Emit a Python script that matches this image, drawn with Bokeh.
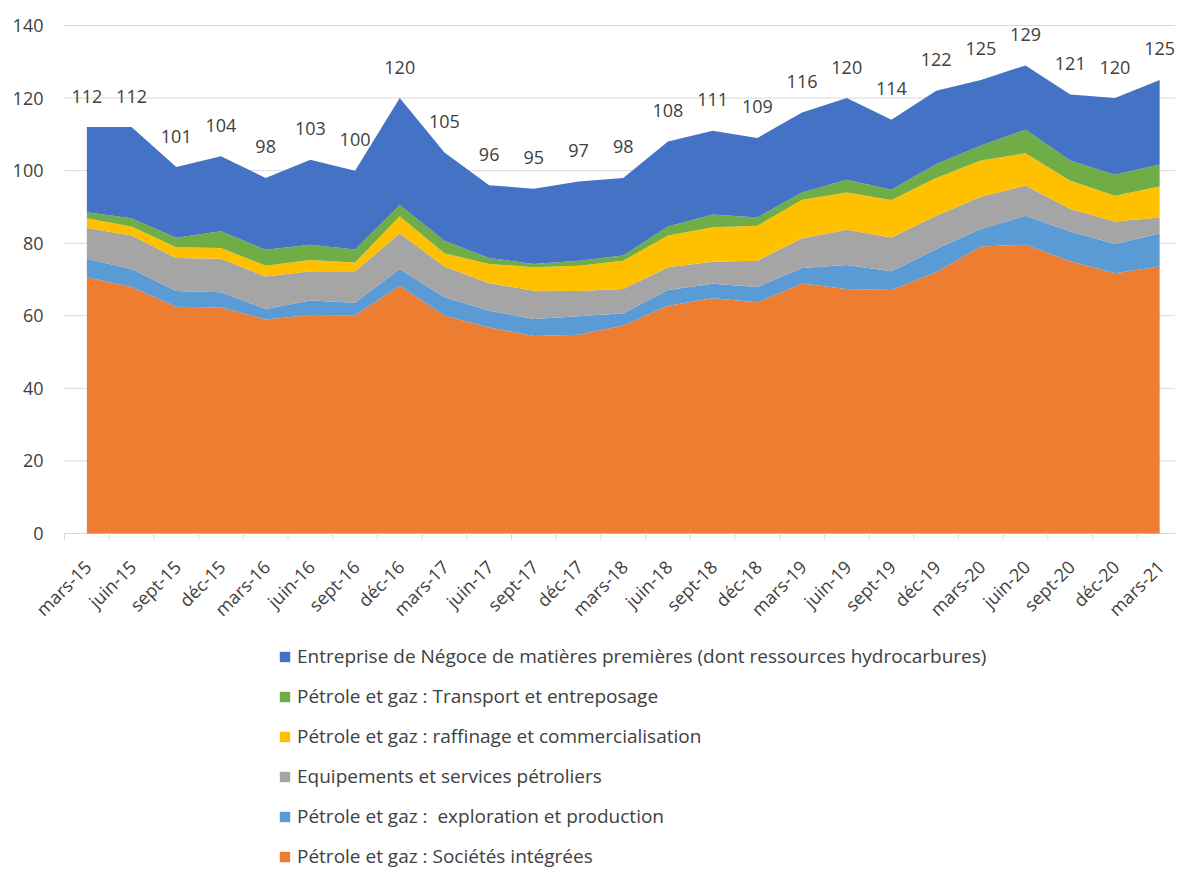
import math
from bokeh.plotting import figure
from bokeh.models import ColumnDataSource, Legend, LegendItem, Range1d
from bokeh.embed import file_html
from bokeh.resources import INLINE
from bokeh.core.properties import value

categories = ["mars-15", "juin-15", "sept-15", "déc-15", "mars-16", "juin-16",
              "sept-16", "déc-16", "mars-17", "juin-17", "sept-17", "déc-17",
              "mars-18", "juin-18", "sept-18", "déc-18", "mars-19", "juin-19",
              "sept-19", "déc-19", "mars-20", "juin-20", "sept-20", "déc-20",
              "mars-21"]

integrees = [70.6, 67.9, 62.5, 62.3, 59.0, 60.2, 60.1, 68.3, 60.1, 56.8, 54.4, 54.8,
             57.3, 62.8, 64.8, 63.7, 68.9, 67.4, 67.1, 72.0, 79.1, 79.6, 75.0, 71.7, 73.6]
exploration = [5.1, 5.0, 4.3, 4.2, 2.9, 4.0, 3.5, 4.6, 5.0, 4.6, 4.7, 5.1,
               3.4, 4.3, 4.0, 4.2, 4.3, 6.6, 5.2, 6.4, 4.8, 8.0, 8.2, 8.1, 9.1]
equipements = [8.5, 9.2, 9.1, 9.2, 8.9, 8.1, 8.7, 9.8, 8.5, 7.6, 7.8, 6.9,
               6.7, 6.3, 6.1, 7.3, 8.2, 9.7, 9.3, 9.2, 8.9, 8.3, 6.2, 6.2, 4.4]
raffinage = [2.7, 2.5, 3.0, 3.0, 3.0, 3.1, 2.4, 4.7, 3.6, 5.3, 6.5, 7.0,
             7.8, 8.7, 9.5, 9.6, 10.6, 10.3, 10.3, 10.4, 10.0, 8.9, 7.8, 7.1, 8.5]
transport = [1.6, 2.3, 2.6, 4.6, 4.4, 4.2, 3.6, 3.1, 3.5, 1.6, 0.9, 1.4,
             1.4, 2.5, 3.5, 2.3, 2.0, 3.5, 2.8, 3.8, 4.1, 6.5, 5.6, 5.8, 6.1]
negoce = [23.5, 25.1, 19.5, 20.7, 19.8, 23.4, 21.7, 29.5, 24.3, 20.1, 20.7, 21.8,
          21.4, 23.4, 23.1, 21.9, 22.0, 22.5, 19.3, 20.2, 18.1, 17.7, 18.2, 21.1, 23.3]

series_names = ["Pétrole et gaz : Sociétés intégrées",
                "Pétrole et gaz :  exploration et production",
                "Equipements et services pétroliers",
                "Pétrole et gaz : raffinage et commercialisation",
                "Pétrole et gaz : Transport et entreposage",
                "Entreprise de Négoce de matières premières (dont ressources hydrocarbures)"]
series_colors = ["#ED7D31", "#5B9BD5", "#A5A5A5", "#FFC000", "#70AD47", "#4472C4"]
keys = ["s0", "s1", "s2", "s3", "s4", "s5"]
series_values = [integrees, exploration, equipements, raffinage, transport, negoce]
y_ticks = [0, 20, 40, 60, 80, 100, 120, 140]
y_tick_labels = [str(t) for t in y_ticks]

xs = list(range(len(categories)))
data = {"x": xs, "base": [0] * len(xs), "cat": categories}
for k, v in zip(keys, series_values):
    data[k] = v
totals = [sum(vals) for vals in zip(*series_values)]
data["total"] = totals
data["label"] = [str(int(round(t))) for t in totals]
source = ColumnDataSource(data)

bounds = [i - 0.5 for i in range(len(categories) + 1)]
tick_src = ColumnDataSource({"x": bounds, "y": [0] * len(bounds)})
grid_src = ColumnDataSource({"x0": [bounds[0]] * len(y_ticks),
                             "x1": [bounds[-1]] * len(y_ticks),
                             "y": y_ticks, "lab": y_tick_labels})

FONT = "Open Sans"
TXT = "#404040"
FS = "18px"
GRID = "#D9D9D9"

W, H = 1175, 870
LEFT, TOP = 64, 25
PX_PER_UNIT = 508 / 140.0
y_max = 140 + TOP / PX_PER_UNIT
y_min = y_max - H / PX_PER_UNIT
UNIT_X = 44.7
x_start = -0.5 - LEFT / UNIT_X
x_end = x_start + W / UNIT_X

p = figure(width=W, height=H, output_backend="svg", toolbar_location=None,
           x_range=Range1d(x_start, x_end), y_range=Range1d(y_min, y_max),
           min_border_left=0, min_border_right=0, min_border_top=0,
           min_border_bottom=0, outline_line_color=None)
p.xaxis.visible = False
p.yaxis.visible = False
p.xgrid.grid_line_color = None
p.ygrid.grid_line_color = None

# horizontal gridlines and value-axis labels
p.segment(x0="x0", x1="x1", y0="y", y1="y", source=grid_src,
          line_color=GRID, line_width=1)
p.text(x="x0", y="y", text="lab", source=grid_src, x_offset=-21,
       text_align="right", text_baseline="middle", text_font=value(FONT),
       text_font_size=FS, text_color=TXT)

renderers = p.varea_stack(stackers=keys, x="x", color=series_colors, source=source)

# data labels (totals)
p.text(x="x", y="total", text="label", source=source, text_align="center",
       text_baseline="middle", y_offset=-31, text_font=value(FONT),
       text_font_size=FS, text_color=TXT)

# category axis: tick marks between categories and rotated labels
p.ray(x="x", y="y", source=tick_src, length=6, length_units="screen",
      angle=-math.pi / 2, line_color=GRID, line_width=1)
p.text(x="x", y="base", text="cat", source=source, angle=math.pi / 4,
       text_align="right", text_baseline="middle", x_offset=1, y_offset=30,
       text_font=value(FONT), text_font_size=FS, text_color=TXT)

items = [LegendItem(label=n, renderers=[r]) for n, r in zip(series_names, renderers)]
items = items[::-1]
legend = Legend(items=items, location=(278, 1), orientation="vertical",
                glyph_width=13, glyph_height=13, label_height=26, spacing=14,
                padding=0, margin=0, label_standoff=6,
                label_text_font=FONT, label_text_font_size="19px",
                label_text_color=TXT, border_line_color=None,
                background_fill_alpha=0)
p.add_layout(legend, "center")

open("out.html", "w").write(file_html(p, INLINE))
